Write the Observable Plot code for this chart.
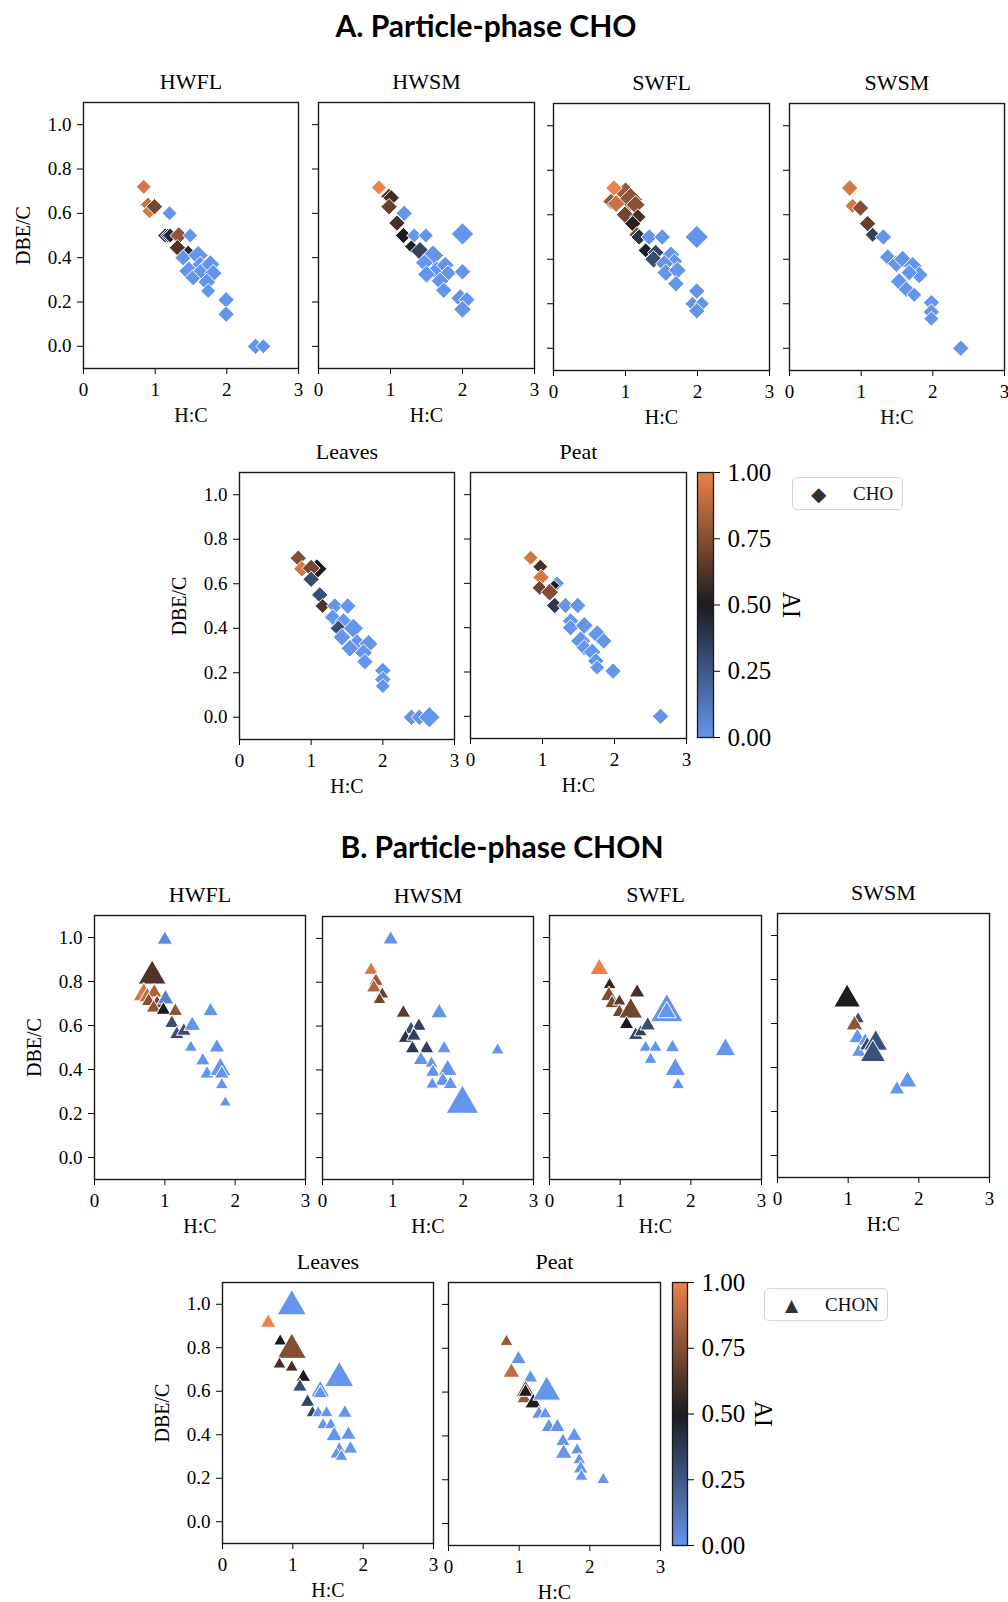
<!DOCTYPE html>
<html><head><meta charset="utf-8">
<script src="https://cdn.jsdelivr.net/npm/d3@7"></script>
<script src="https://cdn.jsdelivr.net/npm/@observablehq/plot@0.6"></script>
<style>
body{margin:0;background:#fff;}
#root{position:relative;width:1008px;height:1602px;overflow:hidden;background:#fff;font-family:"Liberation Serif",serif;}
.abs{position:absolute;}
.abs svg{max-width:none !important;}
.sec{position:absolute;font-family:Lato,sans-serif;font-weight:bold;font-size:30px;color:#000;white-space:nowrap;transform:translate(-50%,-50%);}
.legend{position:absolute;border:1px solid #d4d4d4;border-radius:5px;box-sizing:border-box;font-family:"Liberation Serif",serif;font-size:19px;color:#111;background:#fff;}
.legend span{position:absolute;top:50%;transform:translateY(-50%);}
.legend .sym{font-family:"DejaVu Sans",sans-serif;color:#333;}
</style></head><body><div id="root"></div>
<script>
// [H:C, DBE/C, AI, relative intensity]
const choHWFL = [
 [0.84,0.72,0.95,2.5],[0.90,0.64,0.92,2.5],[0.92,0.61,0.95,2.5],[0.99,0.63,0.72,3],
 [1.20,0.60,0.0,2.5],[1.14,0.50,0.40,2.5],[1.18,0.50,0.35,2.5],[1.21,0.50,0.45,2.5],
 [1.33,0.50,0.78,3.5],[1.31,0.445,0.62,3],[1.46,0.43,0.45,1.5],[1.49,0.50,0.0,2.5],
 [1.39,0.40,0.0,3],[1.60,0.41,0.0,4.5],[1.47,0.34,0.0,4.5],[1.53,0.31,0.0,3],
 [1.63,0.37,0.0,3],[1.67,0.34,0.0,4.5],[1.77,0.37,0.0,4],[1.81,0.33,0.0,3.5],
 [1.72,0.29,0.0,3.5],[1.74,0.25,0.0,2.5],[1.99,0.21,0.0,3],[1.99,0.145,0.0,3],
 [2.40,0.0,0.0,3],[2.51,0.0,0.0,2.5]
];
const choHWSM = [
 [0.84,0.717,1.0,2.5],[0.98,0.676,0.55,3],[1.01,0.67,0.58,3],[0.98,0.63,0.68,3],
 [1.19,0.60,0.0,3],[1.09,0.556,0.6,3],[1.18,0.50,0.5,3],[1.33,0.50,0.0,2.5],
 [1.49,0.50,0.0,2.5],[1.29,0.45,0.48,2],[1.41,0.43,0.33,4],[1.59,0.41,0.0,5],
 [1.47,0.377,0.0,3.5],[1.645,0.34,0.0,4.5],[1.76,0.366,0.0,3.5],[1.80,0.33,0.0,3],
 [1.50,0.325,0.0,3.5],[1.69,0.295,0.0,3.5],[1.74,0.253,0.0,3],[2.0,0.507,0.0,5.5],
 [2.0,0.336,0.0,3],[1.97,0.217,0.0,4],[2.06,0.21,0.0,3],[2.0,0.167,0.0,3.5]
];
const choSWFL = [
 [0.80,0.66,0.78,3],[1.00,0.70,0.8,5],[1.07,0.668,0.78,6.5],[1.14,0.645,0.76,4],
 [0.84,0.72,1.0,3],[0.87,0.65,0.92,3.5],[0.995,0.60,0.7,3.5],[1.17,0.59,0.6,3],
 [1.10,0.56,0.52,3],[1.16,0.51,0.72,3],[1.19,0.50,0.4,3],[1.33,0.50,0.0,3],
 [1.51,0.50,0.0,3],[1.28,0.44,0.48,2.5],[1.42,0.43,0.33,3],[1.39,0.40,0.3,3.5],
 [1.63,0.42,0.0,3.5],[1.68,0.39,0.0,3],[1.54,0.38,0.0,3.5],[1.56,0.34,0.0,3.5],
 [1.72,0.35,0.0,3.5],[1.70,0.29,0.0,3],[1.99,0.50,0.0,6],[1.99,0.257,0.0,3],
 [1.93,0.20,0.0,2.5],[2.06,0.20,0.0,2.5],[1.99,0.168,0.0,3]
];
const choSWSM = [
 [0.84,0.72,0.95,3],[0.88,0.64,0.95,2.5],[0.99,0.63,0.75,3],[1.09,0.56,0.68,3],
 [1.16,0.51,0.35,2.5],[1.31,0.50,0.0,3],[1.37,0.41,0.0,3],[1.49,0.38,0.0,3.5],
 [1.58,0.40,0.0,3.5],[1.72,0.37,0.0,4],[1.81,0.33,0.0,3.5],[1.67,0.34,0.0,3],
 [1.53,0.30,0.0,3.5],[1.63,0.265,0.0,3],[1.74,0.24,0.0,2.5],[1.98,0.205,0.0,3],
 [1.98,0.163,0.0,3],[1.98,0.133,0.0,2.5],[2.39,0.0,0.0,3]
];
const choLeaves = [
 [0.82,0.715,0.75,3],[0.87,0.667,0.95,3],[1.08,0.667,0.5,4.5],[1.00,0.67,0.72,3.5],
 [1.00,0.62,0.3,3],[1.12,0.55,0.3,3],[1.16,0.50,0.62,2.5],[1.33,0.50,0.0,3],
 [1.51,0.50,0.0,3],[1.30,0.45,0.0,3],[1.45,0.43,0.0,3.5],[1.38,0.40,0.3,3],
 [1.59,0.40,0.0,4.5],[1.43,0.36,0.0,3.5],[1.64,0.33,0.0,4.5],[1.80,0.33,0.0,4],
 [1.54,0.31,0.0,3.5],[1.73,0.29,0.0,3.5],[1.75,0.25,0.0,3],[2.0,0.21,0.0,3],
 [2.0,0.17,0.0,3],[2.0,0.14,0.0,2.5],[2.40,0.0,0.0,3],[2.51,0.0,0.0,3],[2.65,0.0,0.0,5]
];
const choPeat = [
 [0.835,0.715,0.95,2.5],[0.97,0.675,0.6,2.5],[0.98,0.627,0.95,3],[1.20,0.60,0.0,2.5],
 [0.96,0.58,0.7,2.5],[1.16,0.59,0.5,1.5],[1.10,0.56,0.75,3.5],[1.17,0.50,0.38,3],
 [1.32,0.50,0.0,3],[1.49,0.50,0.0,3],[1.39,0.43,0.0,3],[1.39,0.40,0.0,3],
 [1.58,0.41,0.0,3.5],[1.76,0.37,0.0,4],[1.85,0.34,0.0,3],[1.53,0.34,0.0,4.5],
 [1.58,0.31,0.0,3],[1.69,0.29,0.0,3.5],[1.74,0.25,0.0,3],[1.76,0.22,0.0,2.5],
 [1.98,0.204,0.0,3],[2.64,0.0,0.0,3]
];
const chonHWFL = [
 [1.00,0.99,0.05,1.7],[0.82,0.825,0.62,5.5],[0.70,0.74,0.95,3.2],[0.75,0.73,0.9,2],
 [0.85,0.75,0.85,1.7],[0.77,0.71,0.75,1.5],[0.89,0.70,0.68,1.5],[0.84,0.68,0.78,1.5],
 [1.01,0.72,0.08,2],[0.98,0.67,0.5,1.5],[1.15,0.665,0.78,1.5],[1.10,0.61,0.3,1.5],
 [1.17,0.56,0.3,1.5],[1.27,0.575,0.3,1.5],[1.39,0.60,0.0,2],[1.65,0.665,0.0,1.7],
 [1.37,0.50,0.0,1.2],[1.54,0.44,0.0,1.5],[1.60,0.38,0.0,1.5],[1.74,0.50,0.0,1.7],
 [1.79,0.40,0.0,3.2],[1.81,0.38,0.0,1.5],[1.81,0.33,0.0,1.2],[1.86,0.25,0.0,1]
];
const chonHWSM = [
 [0.97,0.995,0.0,1.7],[0.69,0.855,0.95,1.5],[0.76,0.805,0.8,1.5],[0.73,0.775,0.85,1.5],
 [0.85,0.745,0.68,1.2],[0.81,0.72,0.7,1.2],[1.15,0.66,0.65,1.5],[1.26,0.585,0.3,1.5],
 [1.37,0.60,0.35,1.5],[1.18,0.545,0.4,1.5],[1.30,0.555,0.35,1.5],[1.28,0.497,0.38,1.5],
 [1.48,0.497,0.35,1.5],[1.66,0.66,0.0,2],[1.73,0.497,0.0,1.5],[1.40,0.445,0.0,1.7],
 [1.55,0.43,0.0,1.2],[1.57,0.39,0.0,1.5],[1.78,0.40,0.0,2.5],[1.71,0.35,0.0,1.7],
 [1.56,0.334,0.0,1.2],[1.82,0.334,0.0,1.5],[1.99,0.245,0.0,7.5],[2.49,0.49,0.0,1.2]
];
const chonSWFL = [
 [0.705,0.856,1.0,2.5],[0.85,0.785,0.55,1.2],[0.84,0.735,0.75,2],[0.885,0.70,0.72,1.5],
 [0.99,0.71,0.65,1.2],[0.99,0.66,0.7,1.5],[1.24,0.75,0.6,1.7],[1.15,0.665,0.7,4],
 [1.09,0.605,0.5,1.5],[1.22,0.556,0.35,1.5],[1.29,0.57,0.35,1.2],[1.39,0.60,0.3,1.7],
 [1.66,0.66,0.0,7.5],[1.66,0.66,0.0,2.5],[1.36,0.50,0.0,1.2],[1.50,0.50,0.0,1.2],
 [1.74,0.50,0.0,1.5],[1.43,0.445,0.0,1.2],[1.78,0.40,0.0,3],[1.82,0.33,0.0,1.2],
 [2.49,0.49,0.0,3]
];
const chonSWSM = [
 [0.985,0.71,0.5,5],[1.14,0.62,0.3,1.2],[1.09,0.593,0.78,2],[1.13,0.535,0.0,2],
 [1.24,0.52,0.0,1.5],[1.15,0.47,0.0,1.5],[1.27,0.50,0.3,1.7],[1.39,0.51,0.28,4],
 [1.35,0.46,0.28,4.5],[1.84,0.336,0.0,2.5],[1.69,0.30,0.0,1.7]
];
const chonLeaves = [
 [0.985,0.99,0.0,6],[0.65,0.915,1.0,1.7],[0.82,0.83,0.5,1.2],[0.985,0.79,0.75,6],
 [0.81,0.724,0.6,1.2],[0.985,0.71,0.6,1.2],[1.15,0.665,0.5,1.5],[1.10,0.62,0.3,1.5],
 [1.21,0.55,0.33,1.5],[1.28,0.50,0.35,1.2],[1.66,0.66,0.0,6],[1.39,0.60,0.03,2.5],
 [1.39,0.59,0.0,1.5],[1.36,0.50,0.0,1.2],[1.48,0.50,0.0,1.2],[1.74,0.50,0.0,1.5],
 [1.43,0.445,0.0,1.2],[1.54,0.445,0.0,1.2],[1.59,0.395,0.0,2],[1.79,0.40,0.0,1.7],
 [1.66,0.33,0.0,1.5],[1.82,0.335,0.0,1.5],[1.62,0.31,0.0,1.2],[1.69,0.30,0.0,1.2]
];
const chonPeat = [
 [0.82,0.83,0.8,1.2],[0.99,0.75,0.0,1.7],[0.89,0.69,0.9,2],[1.16,0.665,0.0,1.5],
 [1.09,0.605,0.75,2.5],[1.07,0.57,0.8,1.5],[1.09,0.60,0.5,1.5],[1.20,0.55,0.5,2],
 [1.39,0.60,0.0,5.5],[1.28,0.50,0.0,1.5],[1.37,0.50,0.0,1.2],[1.42,0.44,0.0,1.7],
 [1.54,0.44,0.0,1.7],[1.78,0.40,0.0,1.7],[1.62,0.375,0.0,1.5],[1.63,0.32,0.0,2],
 [1.82,0.335,0.0,1.2],[1.85,0.29,0.0,1.2],[1.87,0.25,0.0,1.5],[1.88,0.215,0.0,1.2],
 [2.19,0.20,0.0,1.2]
];
const xTicks = [0, 1, 2, 3];
const yTicks = [0, 0.2, 0.4, 0.6, 0.8, 1.0];
const cbTicks = [0, 0.25, 0.5, 0.75, 1];
const sectionTitles = ["A. Particle-phase CHO", "B. Particle-phase CHON"];
const groups = ["CHO", "CHON"];

const FONT = "'Liberation Serif', 'Times New Roman', serif";
const COLOR = {type: "linear", domain: [0, 0.5, 1], range: ["#6495ED", "#1c1c20", "#EC8248"], interpolate: "rgb"};
const root = document.getElementById("root");
function place(el, left, top) {
  const d = document.createElement("div");
  d.className = "abs"; d.style.left = left + "px"; d.style.top = top + "px";
  d.appendChild(el); root.appendChild(d);
}
function panel(rows, o) {
  const mL = 70, mR = 12, mT = 45, mB = 60;
  const W = o.R - o.L, H = o.B - o.T;
  const data = rows.map(([hc, dbe, ai, inten]) => ({hc, dbe, ai, inten}));
  const marks = [
    Plot.axisX({ticks: xTicks, tickFormat: d => String(d), tickSize: 6, tickPadding: 8, label: null, fontFamily: FONT, fontSize: 19}),
    Plot.axisY({ticks: yTicks, tickFormat: o.ylab ? d3.format(".1f") : () => "", tickSize: 6, tickPadding: 6, label: null, fontFamily: FONT, fontSize: 19}),
    Plot.dot(data, {x: "hc", y: "dbe", fill: "ai", r: "inten", symbol: o.symbol, stroke: "white", strokeWidth: 1, sort: null}),
    Plot.frame({stroke: "#1a1a1a", strokeWidth: 1.4}),
    Plot.text([o.title], {frameAnchor: "top", dy: -21, lineAnchor: "middle", textAnchor: "middle", fontSize: 22, fontFamily: FONT}),
    Plot.text(["H:C"], {frameAnchor: "bottom", dy: 47, lineAnchor: "middle", textAnchor: "middle", fontSize: 20, fontFamily: FONT})
  ];
  if (o.ylab) marks.push(Plot.text(["DBE/C"], {frameAnchor: "left", dx: -60, rotate: -90, lineAnchor: "middle", textAnchor: "middle", fontSize: 20, fontFamily: FONT}));
  const svg = Plot.plot({
    width: W + mL + mR, height: H + mT + mB,
    marginLeft: mL, marginRight: mR, marginTop: mT, marginBottom: mB,
    style: {background: "transparent", overflow: "visible", fontFamily: FONT, fontSize: "19px", color: "#000", maxWidth: "none"},
    x: {domain: [0, 3]},
    y: {domain: [-0.1, 1.1]},
    color: COLOR,
    r: {type: "sqrt", domain: [0, 10], range: [0, o.rmax]},
    marks
  });
  place(svg, o.L - mL, o.T - mT);
}
function colorbar(o) {
  const mR = 110, mV = 15;
  const svg = Plot.plot({
    width: (o.R - o.L) + mR, height: (o.B - o.T) + 2 * mV,
    marginLeft: 0, marginRight: mR, marginTop: mV, marginBottom: mV,
    style: {background: "transparent", overflow: "visible", fontFamily: FONT, fontSize: "25px", color: "#000", maxWidth: "none"},
    x: {domain: [0, 1], axis: null},
    y: {domain: [0, 1], axis: null},
    color: COLOR,
    marks: [
      Plot.raster({x1: 0, x2: 1, y1: 0, y2: 1, fill: (x, y) => y}),
      Plot.axisY({anchor: "right", ticks: cbTicks, tickFormat: d3.format(".2f"), tickSize: 6, tickPadding: 8, label: null, fontFamily: FONT, fontSize: 25}),
      Plot.frame({stroke: "#1a1a1a", strokeWidth: 1.3}),
      Plot.text(["AI"], {frameAnchor: "right", dx: o.labelDx, rotate: 90, lineAnchor: "middle", textAnchor: "middle", fontSize: 25, fontFamily: FONT})
    ]
  });
  place(svg, o.L, o.T - mV);
}
function legend(label, sym, o) {
  const d = document.createElement("div");
  d.className = "legend";
  Object.assign(d.style, {left: o.L + "px", top: o.T + "px", width: o.W + "px", height: o.H + "px"});
  const s = document.createElement("span"); s.className = "sym"; s.textContent = sym;
  s.style.left = o.symX + "px"; s.style.fontSize = o.symSize + "px";
  const t = document.createElement("span"); t.textContent = label; t.style.left = o.txtX + "px";
  d.appendChild(s); d.appendChild(t); root.appendChild(d);
}
function section(text, cx, cy) {
  const d = document.createElement("div"); d.className = "sec"; d.textContent = text;
  d.style.left = cx + "px"; d.style.top = cy + "px"; root.appendChild(d);
}

const RD = 13.5, RT = 14;
section(sectionTitles[0], 486, 25);
panel(choHWFL, {title: "HWFL", L: 83, R: 298, T: 102, B: 368, ylab: true, symbol: "diamond2", rmax: RD});
panel(choHWSM, {title: "HWSM", L: 318, R: 534, T: 102, B: 368, symbol: "diamond2", rmax: RD});
panel(choSWFL, {title: "SWFL", L: 553, R: 769, T: 103, B: 370, symbol: "diamond2", rmax: RD});
panel(choSWSM, {title: "SWSM", L: 789, R: 1004, T: 103, B: 370, symbol: "diamond2", rmax: RD});
panel(choLeaves, {title: "Leaves", L: 239, R: 454, T: 472, B: 739, ylab: true, symbol: "diamond2", rmax: RD});
panel(choPeat, {title: "Peat", L: 470, R: 686, T: 472, B: 738, symbol: "diamond2", rmax: RD});
colorbar({L: 697, R: 713, T: 472, B: 737, labelDx: 77});
legend(groups[0], "◆", {L: 792, T: 477, W: 111, H: 33, symX: 18, symSize: 20, txtX: 60});

section(sectionTitles[1], 502, 846);
panel(chonHWFL, {title: "HWFL", L: 94, R: 305, T: 915, B: 1179, ylab: true, symbol: "triangle", rmax: RT});
panel(chonHWSM, {title: "HWSM", L: 322, R: 533, T: 916, B: 1179, symbol: "triangle", rmax: RT});
panel(chonSWFL, {title: "SWFL", L: 549, R: 761, T: 915, B: 1179, symbol: "triangle", rmax: RT});
panel(chonSWSM, {title: "SWSM", L: 777, R: 989, T: 913, B: 1177, symbol: "triangle", rmax: RT});
panel(chonLeaves, {title: "Leaves", L: 222, R: 433, T: 1282, B: 1543, ylab: true, symbol: "triangle", rmax: RT});
panel(chonPeat, {title: "Peat", L: 448, R: 660, T: 1282, B: 1545, symbol: "triangle", rmax: RT});
colorbar({L: 672, R: 687, T: 1282, B: 1545, labelDx: 75});
legend(groups[1], "▲", {L: 764, T: 1288, W: 124, H: 33, symX: 20, symSize: 17, txtX: 60});
</script></body></html>
